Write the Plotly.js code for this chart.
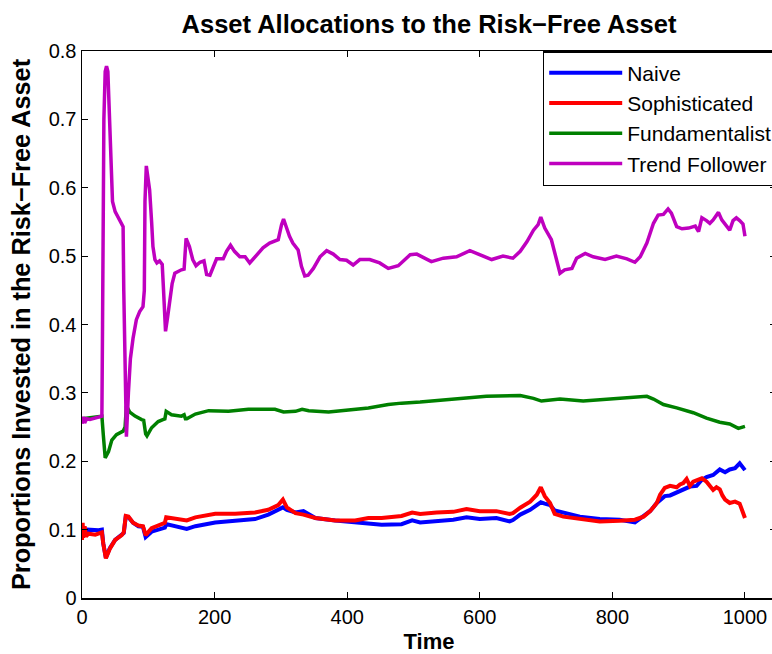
<!DOCTYPE html>
<html>
<head>
<meta charset="utf-8">
<script src="https://cdn.plot.ly/plotly-3.0.1.min.js"></script>
<style>
html, body { margin: 0; padding: 0; overflow: hidden; background: #fff; }
#chart { width: 776px; height: 654px; }
</style>
</head>
<body>
<div id="chart"></div>
<script>
// ---- Data ----
const seriesNames = ["Naive", "Sophisticated", "Fundamentalist", "Trend Follower"];

const tNaive = [0,3,8,15,25,30,32,36,42,50,60,63,66,70,77,85,92,96,105,120,125,127,140,158,171,201,231,261,281,296,303,309,322,334,352,382,412,432,452,482,498,510,535,560,580,600,625,645,650,661,676,686,692,698,706,713,726,751,781,811,834,847,857,867,872,879,887,897,907,917,927,935,942,952,962,970,977,985,992,997,1000];
const naive = [0.100,0.096,0.100,0.099,0.099,0.100,0.080,0.059,0.073,0.085,0.092,0.095,0.119,0.118,0.110,0.105,0.104,0.089,0.097,0.102,0.103,0.108,0.105,0.101,0.105,0.1105,0.113,0.1155,0.122,0.129,0.1325,0.129,0.125,0.127,0.117,0.1135,0.1105,0.1096,0.107,0.108,0.1135,0.1105,0.112,0.1145,0.118,0.1155,0.117,0.112,0.114,0.122,0.129,0.136,0.140,0.138,0.136,0.128,0.125,0.119,0.1155,0.1145,0.1105,0.119,0.127,0.139,0.144,0.149,0.150,0.154,0.158,0.163,0.164,0.173,0.177,0.180,0.188,0.184,0.188,0.190,0.197,0.190,0.187];

const tSoph = [0,1,2,4,6,10,20,30,32,36,42,50,60,63,66,70,77,85,92,96,105,120,125,127,140,158,171,201,231,261,281,296,303,309,322,334,352,382,412,432,452,482,498,510,535,560,580,600,625,645,650,661,676,686,692,698,706,713,726,751,781,811,834,847,857,867,872,879,887,897,902,907,912,917,922,927,935,942,947,952,957,962,966,970,977,985,992,996,1000];
const sophisticated = [0.085,0.110,0.088,0.105,0.090,0.094,0.0925,0.096,0.080,0.058,0.072,0.085,0.092,0.096,0.120,0.119,0.110,0.106,0.105,0.092,0.102,0.1086,0.110,0.118,0.1155,0.1135,0.118,0.1232,0.1232,0.1252,0.129,0.136,0.144,0.1325,0.124,0.122,0.117,0.1135,0.1135,0.117,0.117,0.120,0.125,0.123,0.125,0.126,0.130,0.127,0.127,0.123,0.124,0.132,0.141,0.151,0.162,0.149,0.139,0.123,0.119,0.1155,0.112,0.113,0.1145,0.119,0.127,0.139,0.151,0.161,0.164,0.162,0.166,0.168,0.174,0.164,0.170,0.172,0.175,0.170,0.165,0.158,0.162,0.159,0.150,0.144,0.139,0.141,0.138,0.129,0.117];

const tFund = [0,10,20,30,32,35,40,45,52,62,65,67,72,80,90,93,96,98,105,115,122,125,127,135,150,154,156,158,171,191,221,251,291,304,322,332,342,372,402,432,462,482,510,560,610,661,681,693,721,756,801,852,862,877,897,922,942,962,977,990,1000];
const fundamentalist = [0.262,0.263,0.264,0.266,0.240,0.205,0.214,0.231,0.239,0.244,0.250,0.281,0.272,0.266,0.261,0.260,0.240,0.237,0.249,0.258,0.261,0.262,0.273,0.268,0.266,0.268,0.262,0.262,0.269,0.274,0.273,0.276,0.276,0.272,0.273,0.276,0.274,0.272,0.275,0.278,0.283,0.285,0.2865,0.291,0.295,0.296,0.292,0.288,0.291,0.288,0.291,0.295,0.291,0.283,0.278,0.271,0.263,0.257,0.2545,0.248,0.251];

const tTrend = [0,2,4,7,12,20,30,31,33,35,37,39,41,43,46,50,55,60,62,63,65,67,70,73,77,82,87,92,94,95,97,99,102,105,107,110,113,117,121,123,126,129,132,136,140,145,150,154,157,162,167,172,178,184,188,193,198,203,213,218,224,230,238,246,253,263,273,283,296,301,304,308,313,318,326,331,336,341,349,359,369,379,389,399,409,419,434,449,462,477,495,505,527,545,565,585,600,618,635,650,661,671,681,688,692,698,708,716,721,728,739,746,759,771,789,806,822,834,842,852,862,869,877,884,889,897,905,915,925,930,935,942,947,952,956,960,965,972,977,982,987,992,997,1000];
const trendFollower = [0.255,0.265,0.256,0.262,0.261,0.263,0.266,0.400,0.700,0.770,0.778,0.770,0.720,0.640,0.580,0.565,0.555,0.547,0.543,0.450,0.300,0.236,0.300,0.350,0.380,0.407,0.419,0.426,0.450,0.580,0.632,0.620,0.597,0.550,0.514,0.495,0.490,0.493,0.488,0.450,0.390,0.410,0.436,0.460,0.475,0.478,0.480,0.481,0.526,0.514,0.495,0.486,0.491,0.493,0.473,0.472,0.485,0.496,0.496,0.507,0.516,0.507,0.499,0.499,0.490,0.502,0.512,0.519,0.524,0.546,0.554,0.543,0.529,0.519,0.509,0.485,0.471,0.472,0.482,0.499,0.508,0.503,0.495,0.494,0.487,0.495,0.495,0.490,0.482,0.486,0.502,0.503,0.492,0.497,0.499,0.508,0.502,0.495,0.500,0.497,0.507,0.521,0.538,0.546,0.557,0.541,0.524,0.495,0.475,0.480,0.482,0.497,0.504,0.499,0.495,0.500,0.496,0.491,0.499,0.519,0.548,0.560,0.561,0.569,0.563,0.543,0.540,0.541,0.544,0.536,0.556,0.552,0.548,0.553,0.558,0.564,0.553,0.543,0.538,0.552,0.556,0.552,0.547,0.529];

const xTicks = [0, 200, 400, 600, 800, 1000];
const yTicks = [0, 0.1, 0.2, 0.3, 0.4, 0.5, 0.6, 0.7, 0.8];
const yTickText = ["0", "0.1", "0.2", "0.3", "0.4", "0.5", "0.6", "0.7", "0.8"];

const colors = ["#0000FF", "#FF0000", "#008000", "#BF00BF"];
const widths = [4, 4, 3.5, 3.5];
const xs = [tNaive, tSoph, tFund, tTrend];
const ys = [naive, sophisticated, fundamentalist, trendFollower];

const FONT = "Arial, 'Liberation Sans', Helvetica, sans-serif";

const traces = seriesNames.map((name, i) => ({
  type: "scatter",
  mode: "lines",
  name: name,
  x: xs[i],
  y: ys[i],
  legendgroup: "g" + i,
  line: { color: colors[i], width: widths[i] }
}));

const layout = {
  width: 776,
  height: 654,
  margin: { l: 82, r: 0, t: 51, b: 56, autoexpand: false },
  paper_bgcolor: "#ffffff",
  plot_bgcolor: "#ffffff",
  font: { family: FONT, color: "#000000", size: 20 },
  title: {
    text: "<b>Asset Allocations to the Risk\u2212Free Asset</b>",
    font: { family: FONT, size: 25.5, color: "#000" },
    x: 0.5, xref: "paper", xanchor: "center",
    y: 1 - 24 / 654, yref: "container", yanchor: "middle"
  },
  xaxis: {
    range: [0, 1046.8],
    tickvals: xTicks,
    ticktext: xTicks.map(String),
    ticks: "inside",
    ticklen: 6,
    tickwidth: 1,
    tickcolor: "#000",
    showline: true,
    linecolor: "#000",
    linewidth: 1.5,
    mirror: "ticks",
    showgrid: false,
    zeroline: false,
    automargin: false,
    tickfont: { family: FONT, size: 20, color: "#000" },
    title: { text: "<b>Time</b>", font: { family: FONT, size: 22, color: "#000" }, standoff: 8 }
  },
  yaxis: {
    range: [0, 0.8],
    tickvals: yTicks,
    ticktext: yTickText,
    ticks: "inside",
    ticklen: 6,
    tickwidth: 1,
    tickcolor: "#000",
    showline: true,
    linecolor: "#000",
    linewidth: 1.5,
    mirror: "ticks",
    showgrid: false,
    zeroline: false,
    automargin: false,
    tickfont: { family: FONT, size: 20, color: "#000" },
    title: { text: "<b>Proportions Invested in the Risk\u2212Free Asset</b>", font: { family: FONT, size: 25.3, color: "#000" }, standoff: 11 }
  },
  showlegend: true,
  legend: {
    x: (542.7 - 82) / 694,
    y: 1,
    xanchor: "left",
    yanchor: "top",
    bgcolor: "#ffffff",
    bordercolor: "#000000",
    borderwidth: 1.5,
    font: { family: FONT, size: 21, color: "#000" },
    itemwidth: 73,
    tracegroupgap: 3,
    traceorder: "normal"
  }
};

Plotly.newPlot("chart", traces, layout, { displayModeBar: false, staticPlot: true });
</script>
</body>
</html>
